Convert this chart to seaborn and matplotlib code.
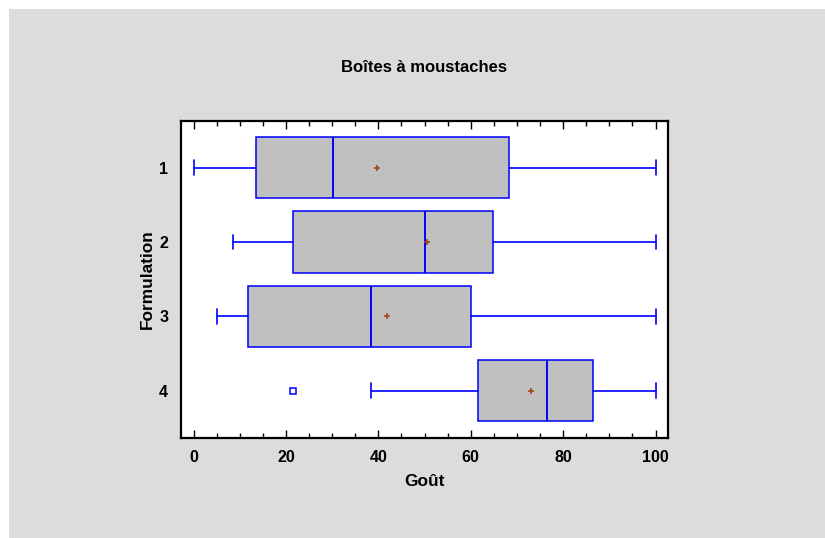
import matplotlib
matplotlib.use("Agg")
import matplotlib.pyplot as plt
import seaborn as sns
from matplotlib.ticker import MultipleLocator
from matplotlib.patches import Rectangle

# Five-number summaries (taste score) per formulation
formulations = ["1", "2", "3", "4"]
whisker_low = [0.0, 8.5, 5.1, 38.5]
q1 = [13.5, 21.6, 11.8, 61.5]
medians = [30.1, 50.1, 38.5, 76.6]
q3 = [68.3, 64.9, 60.0, 86.5]
whisker_high = [100.0, 100.0, 100.0, 100.0]
means = [39.8, 50.6, 41.8, 73.0]
outliers = [[], [], [], [21.6]]

sns.set_theme(style="white")
plt.rcParams["font.family"] = ["Liberation Sans", "DejaVu Sans"]
plt.rcParams["text.color"] = "black"
plt.rcParams["axes.labelcolor"] = "black"
plt.rcParams["xtick.color"] = "black"
plt.rcParams["ytick.color"] = "black"

W, H = 825, 538
fig = plt.figure(figsize=(W / 100, H / 100), dpi=100)
fig.patch.set_facecolor("#DCDCDC")
# white page margin along the top and left edges
fig.patches.append(Rectangle((0, 1 - 9 / H), 1, 9 / H, transform=fig.transFigure,
                             facecolor="white", edgecolor="none", zorder=-1))
fig.patches.append(Rectangle((0, 0), 9 / W, 1, transform=fig.transFigure,
                             facecolor="white", edgecolor="none", zorder=-1))

ax = fig.add_axes([180.7 / W, 1 - 437.7 / H, (668 - 180.7) / W, (437.7 - 120.7) / H])
ax.set_facecolor("white")

blue = "#0000FF"
positions = [1, 2, 3, 4]
stats = [dict(label=f, whislo=wl, q1=a, med=m, q3=b, whishi=wh, fliers=fl)
         for f, wl, a, m, b, wh, fl in zip(formulations, whisker_low, q1, medians,
                                           q3, whisker_high, outliers)]
ax.bxp(stats, positions=positions, widths=0.82, orientation="horizontal",
       patch_artist=True, showfliers=True, capwidths=0.2,
       boxprops=dict(facecolor="#C0C0C0", edgecolor=blue, linewidth=1.1),
       medianprops=dict(color=blue, linewidth=1.4),
       whiskerprops=dict(color=blue, linewidth=1.2),
       capprops=dict(color=blue, linewidth=1.2),
       flierprops=dict(marker="s", markersize=4.5, markerfacecolor="none",
                       markeredgecolor=blue, markeredgewidth=1.1))

# Mean markers
sns.scatterplot(x=means, y=positions, marker="+", color="#A0461E", s=24,
                linewidth=1.2, ax=ax, zorder=5, legend=False)

ax.set_xlim(-2.8, 102.7)
ax.set_ylim(4.63, 0.37)
ax.set_yticks(positions)
ax.set_yticklabels(formulations)

ax.xaxis.set_major_locator(MultipleLocator(20))
ax.xaxis.set_minor_locator(MultipleLocator(5))
ax.tick_params(axis="x", which="both", direction="in", top=True, bottom=True,
               width=1, color="black", labelsize=11.5, pad=9)
ax.tick_params(axis="x", which="major", length=5.5)
ax.tick_params(axis="x", which="minor", length=3.5)
ax.tick_params(axis="y", which="both", length=0, labelsize=11.5, pad=9)
for lab in ax.get_xticklabels() + ax.get_yticklabels():
    lab.set_fontweight("bold")

for sp in ax.spines.values():
    sp.set_color("black")
    sp.set_linewidth(1.6)
    sp.set_visible(True)

ax.set_xlabel("Goût", fontsize=12.4, fontweight="bold", labelpad=6)
ax.set_ylabel("Formulation", fontsize=12.4, fontweight="bold", labelpad=3)
fig.text(424 / W, 1 - 67 / H, "Boîtes à moustaches", ha="center", va="center",
         fontsize=12, fontweight="bold")

fig.savefig("out.png", dpi=100, facecolor=fig.get_facecolor())
